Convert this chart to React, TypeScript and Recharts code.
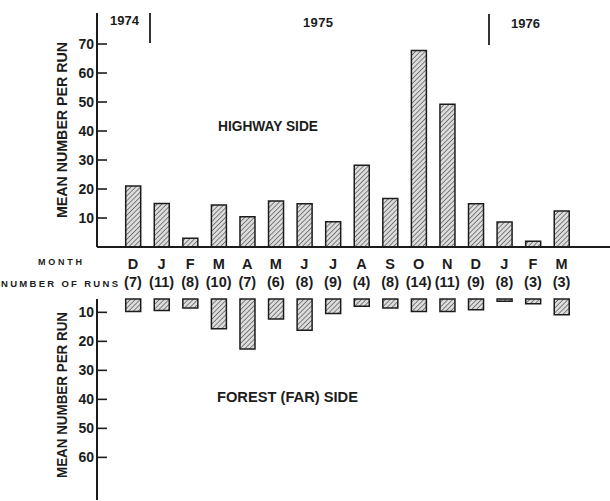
import { BarChart, Bar, XAxis, YAxis } from "recharts";

// months Dec 1974 – Mar 1976
const months = ["D", "J", "F", "M", "A", "M", "J", "J", "A", "S", "O", "N", "D", "J", "F", "M"];
const runs = ["7", "11", "8", "10", "7", "6", "8", "9", "4", "8", "14", "11", "9", "8", "3", "3"];
const highwaySide = [21, 15, 3, 14.5, 10.4, 15.9, 14.9, 8.7, 28.2, 16.7, 67.8, 49.2, 14.9, 8.6, 2, 12.4];
const forestSide = [9.7, 9.4, 8.5, 15.7, 22.6, 12.3, 16.2, 10.4, 7.9, 8.5, 9.7, 9.7, 9.1, 6.2, 7.0, 10.8];
const highwayTicks = [10, 20, 30, 40, 50, 60, 70];
const forestTicks = [10, 20, 30, 40, 50, 60];

const data = months.map((m, i) => ({
  i,
  month: m,
  runs: runs[i],
  highway: highwaySide[i],
  forest: forestSide[i],
}));

const FONT = "'Liberation Sans', Arial, sans-serif";
const INK = "#1c1c1c";
const AXIS_X = 97;

// plot geometry shared by the charts and the tick-mark overlay
const TOP_Y = 13;
const TOP_H = 234;
const TOP_DOMAIN: [number, number] = [0, 80.7];
const BOT_Y = 299;
const BOT_H = 201;
const BOT_DOMAIN: [number, number] = [5.4, 74.7];

const topY = (v: number) => TOP_Y + TOP_H * (1 - (v - TOP_DOMAIN[0]) / (TOP_DOMAIN[1] - TOP_DOMAIN[0]));
const botY = (v: number) => BOT_Y + BOT_H * ((v - BOT_DOMAIN[0]) / (BOT_DOMAIN[1] - BOT_DOMAIN[0]));

const YTick = (props: any) => {
  const { x, y, payload } = props;
  return (
    <text x={x - 3} y={y + 5} textAnchor="end" fontFamily={FONT} fontWeight="bold" fontSize={14} fill={INK}>
      {payload.value}
    </text>
  );
};

const MonthTick = (props: any) => {
  const { x, y, payload } = props;
  const d = data[payload.value];
  if (!d) return null;
  return (
    <g>
      <text x={x} y={y + 22} textAnchor="middle" fontFamily={FONT} fontWeight="bold" fontSize={14.5} fill={INK}>
        {d.month}
      </text>
      <text x={x} y={y + 40} textAnchor="middle" fontFamily={FONT} fontWeight="bold" fontSize={14.5} fill={INK}>
        ({d.runs})
      </text>
    </g>
  );
};

const Hatch = () => (
  <defs>
    <pattern id="hatch" width="3.4" height="3.4" patternUnits="userSpaceOnUse" patternTransform="rotate(45)">
      <rect width="3.4" height="3.4" fill="#dcdcdc" />
      <line x1="0" y1="0" x2="0" y2="3.4" stroke="#4a4a4a" strokeWidth="1.3" />
    </pattern>
  </defs>
);

const txt = { fontFamily: FONT, fontWeight: "bold" as const, fill: INK };

export default function App() {
  return (
    <div style={{ position: "absolute", left: 0, top: 0, width: 610, height: 501, background: "#fff" }}>
      <div style={{ position: "absolute", left: 0, top: 0 }}>
        <BarChart width={610} height={299} data={data} margin={{ top: TOP_Y, right: 0, bottom: 0, left: 0 }}>
          <Hatch />
          <XAxis
            dataKey="i"
            type="category"
            height={52}
            padding={{ left: 21.7, right: 34.2 }}
            axisLine={{ stroke: INK, strokeWidth: 2 }}
            tickLine={false}
            tickSize={0}
            tickMargin={0}
            interval={0}
            tick={<MonthTick />}
          />
          <YAxis
            width={AXIS_X}
            domain={TOP_DOMAIN}
            ticks={highwayTicks}
            axisLine={{ stroke: INK, strokeWidth: 2 }}
            tickLine={false}
            tickSize={0.01}
            tickMargin={0}
            tick={<YTick />}
          />
          <Bar dataKey="highway" barSize={15} fill="url(#hatch)" stroke={INK} strokeWidth={1.5} isAnimationActive={false} />
        </BarChart>
      </div>
      <div style={{ position: "absolute", left: 0, top: BOT_Y - 9 }}>
        <BarChart width={610} height={BOT_H + 10} data={data} margin={{ top: 9, right: 0, bottom: 1, left: 0 }}>
          <Hatch />
          <XAxis
            dataKey="i"
            type="category"
            orientation="top"
            height={0}
            padding={{ left: 21.7, right: 34.2 }}
            axisLine={{ stroke: INK, strokeWidth: 2 }}
            tickLine={false}
            tick={false}
          />
          <YAxis
            width={AXIS_X}
            reversed
            domain={BOT_DOMAIN}
            ticks={forestTicks}
            axisLine={{ stroke: INK, strokeWidth: 2 }}
            tickLine={false}
            tickSize={0.01}
            tickMargin={0}
            tick={<YTick />}
          />
          <Bar dataKey="forest" barSize={15} fill="url(#hatch)" stroke={INK} strokeWidth={1.5} isAnimationActive={false} />
        </BarChart>
      </div>
      <svg width={610} height={501} style={{ position: "absolute", left: 0, top: 0, pointerEvents: "none" }}>
        {highwayTicks.map((v) => (
          <line key={`t${v}`} x1={AXIS_X} x2={AXIS_X + 10} y1={topY(v)} y2={topY(v)} stroke={INK} strokeWidth={1.6} />
        ))}
        {forestTicks.map((v) => (
          <line key={`b${v}`} x1={AXIS_X} x2={AXIS_X + 10} y1={botY(v)} y2={botY(v)} stroke={INK} strokeWidth={1.6} />
        ))}
        <line x1={150} x2={150} y1={13} y2={43} stroke="#333" strokeWidth={2} />
        <line x1={489} x2={489} y1={14} y2={45} stroke="#333" strokeWidth={2} />
        <text x={110} y={25} fontSize={13} textLength={29} {...txt}>1974</text>
        <text x={303} y={27} fontSize={13} textLength={30} {...txt}>1975</text>
        <text x={511} y={28} fontSize={13} textLength={29} {...txt}>1976</text>
        <text x={218} y={131} fontSize={14} textLength={100} lengthAdjust="spacingAndGlyphs" {...txt}>HIGHWAY SIDE</text>
        <text x={217} y={402} fontSize={14} textLength={141} lengthAdjust="spacingAndGlyphs" {...txt}>FOREST (FAR) SIDE</text>
        <text x={38} y={265} fontSize={9} textLength={44} {...txt}>MONTH</text>
        <text x={1} y={287} fontSize={9.5} textLength={117} {...txt}>NUMBER OF RUNS</text>
        <text
          x={0}
          y={0}
          fontSize={14}
          textAnchor="middle"
          textLength={176}
          lengthAdjust="spacingAndGlyphs"
          transform="translate(67,130) rotate(-90)"
          {...txt}
        >
          MEAN NUMBER PER RUN
        </text>
        <text
          x={0}
          y={0}
          fontSize={14}
          textAnchor="middle"
          textLength={166}
          lengthAdjust="spacingAndGlyphs"
          transform="translate(67,395) rotate(-90)"
          {...txt}
        >
          MEAN NUMBER PER RUN
        </text>
      </svg>
    </div>
  );
}
